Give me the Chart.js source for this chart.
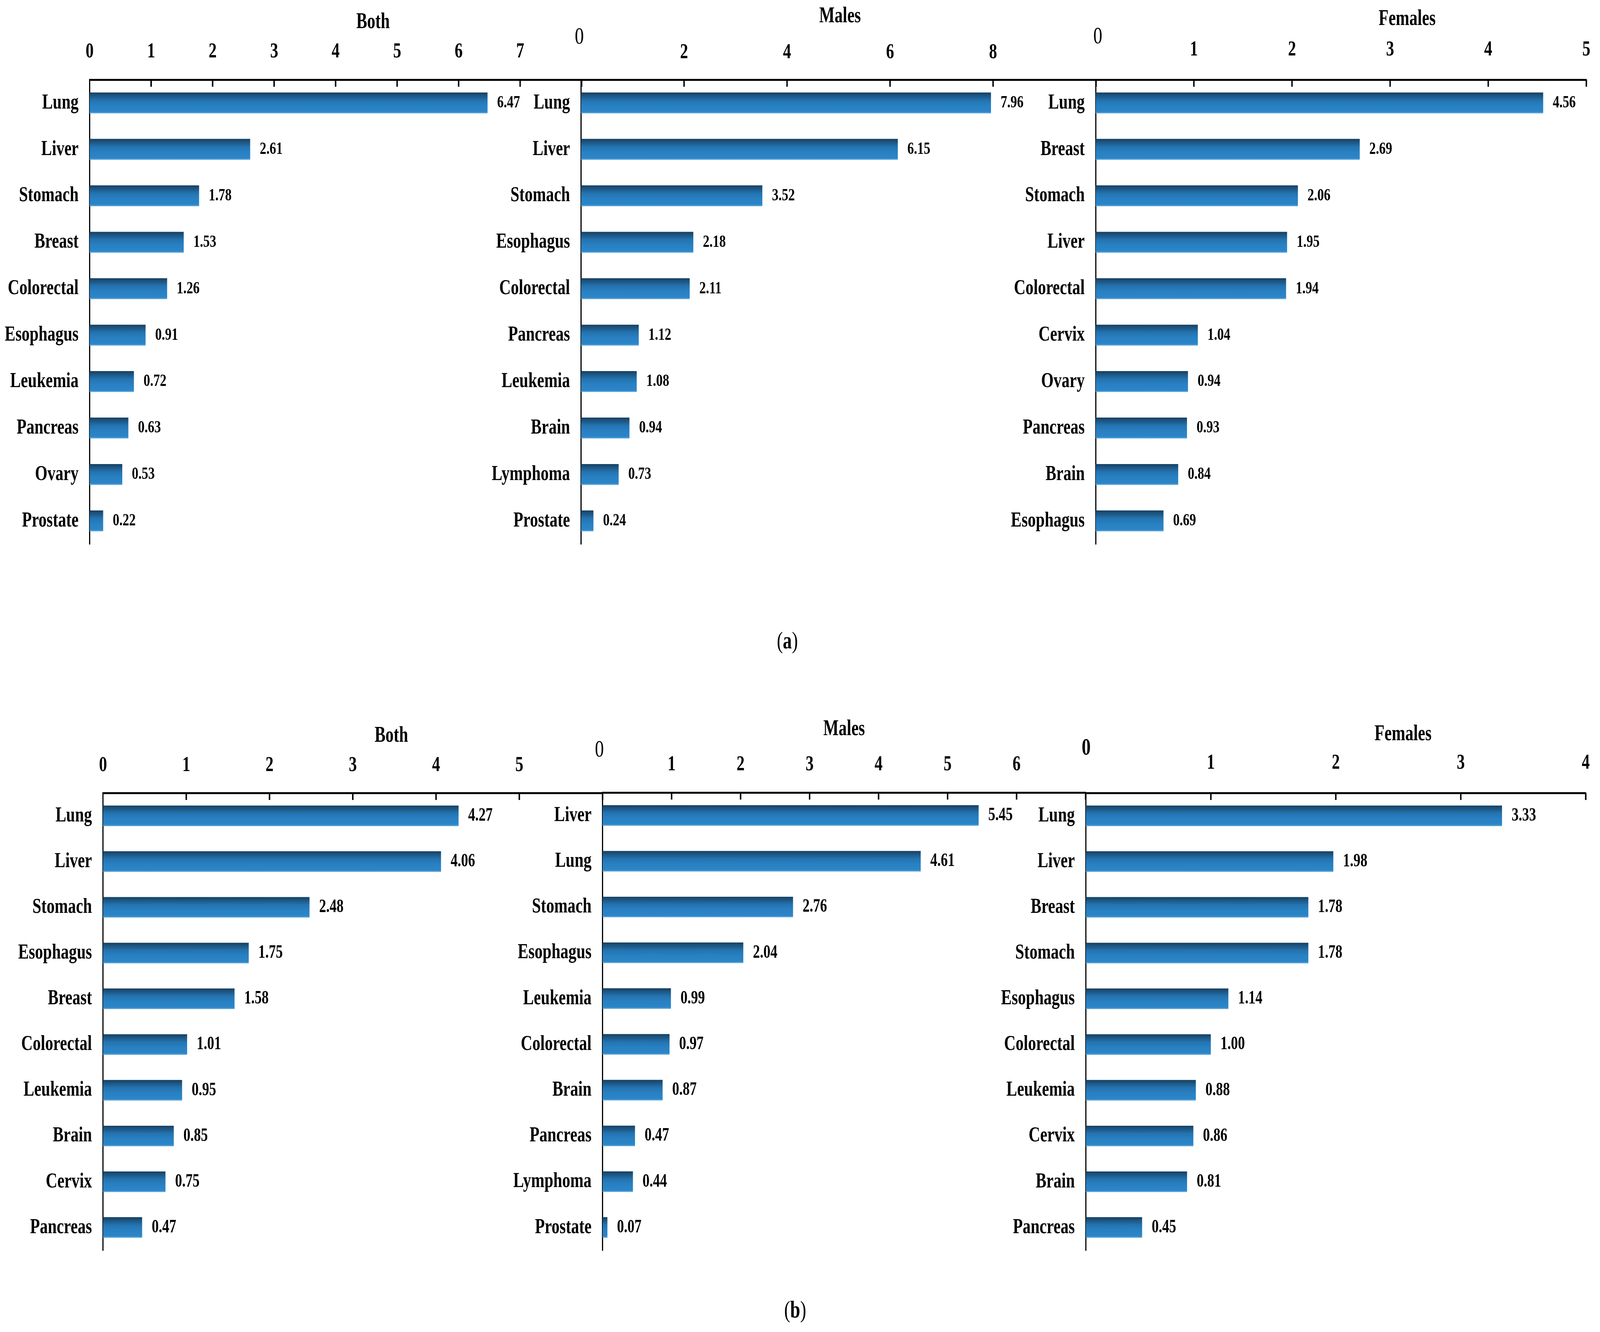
<!DOCTYPE html>
<html>
<head>
<meta charset="utf-8">
<script src="https://cdn.jsdelivr.net/npm/chart.js@4.4.1/dist/chart.umd.min.js"></script>
<style>
html,body{margin:0;padding:0;background:#fff;overflow:hidden;}
#page{position:absolute;left:0;top:0;width:5499px;height:3410px;overflow:hidden;background:#fff;transform-origin:0 0;}
#page canvas{position:absolute;}
.cap{position:absolute;font-family:"Liberation Serif","Times New Roman",serif;font-size:62px;color:#000;transform:translate(-50%,-50%);line-height:1;white-space:nowrap;}
</style>
</head>
<body>
<div id="page">
<span class="cap" style="left:2706px;top:1639px">(<b>a</b>)</span>
<span class="cap" style="left:2733px;top:3352px">(<b>b</b>)</span>
</div>
<script>
// ---------------- DATA ----------------
const aBothCats = ['Lung','Liver','Stomach','Breast','Colorectal','Esophagus','Leukemia','Pancreas','Ovary','Prostate'];
const aBothVals = [6.47,2.61,1.78,1.53,1.26,0.91,0.72,0.63,0.53,0.22];
const aBothTicks = ['0','1','2','3','4','5','6','7'];

const aMalesCats = ['Lung','Liver','Stomach','Esophagus','Colorectal','Pancreas','Leukemia','Brain','Lymphoma','Prostate'];
const aMalesVals = [7.96,6.15,3.52,2.18,2.11,1.12,1.08,0.94,0.73,0.24];
const aMalesTicks = ['0','2','4','6','8'];

const aFemalesCats = ['Lung','Breast','Stomach','Liver','Colorectal','Cervix','Ovary','Pancreas','Brain','Esophagus'];
const aFemalesVals = [4.56,2.69,2.06,1.95,1.94,1.04,0.94,0.93,0.84,0.69];
const aFemalesTicks = ['0','1','2','3','4','5'];

const bBothCats = ['Lung','Liver','Stomach','Esophagus','Breast','Colorectal','Leukemia','Brain','Cervix','Pancreas'];
const bBothVals = [4.27,4.06,2.48,1.75,1.58,1.01,0.95,0.85,0.75,0.47];
const bBothTicks = ['0','1','2','3','4','5'];

const bMalesCats = ['Liver','Lung','Stomach','Esophagus','Leukemia','Colorectal','Brain','Pancreas','Lymphoma','Prostate'];
const bMalesVals = [5.45,4.61,2.76,2.04,0.99,0.97,0.87,0.47,0.44,0.07];
const bMalesTicks = ['0','1','2','3','4','5','6'];

const bFemalesCats = ['Lung','Liver','Breast','Stomach','Esophagus','Colorectal','Leukemia','Cervix','Brain','Pancreas'];
const bFemalesVals = [3.33,1.98,1.78,1.78,1.14,1.00,0.88,0.86,0.81,0.45];
const bFemalesTicks = ['0','1','2','3','4'];

const panelTitles = ['Both','Males','Females','Both','Males','Females'];
const axisMax  = [8,10,5,6,7,4];
const axisStep = [1,2,1,1,1,1];

// ---------------- LAYOUT (pixels) ----------------
const PAGE_W = 5499, PAGE_H = 3410;
const layout = [
  {axisX:308,  axisY:204,  axisR:1999, axisB:1454, top:0,    left:0,    title:[1282,58],   tickPad:38, zero:null, valFont:45},
  {axisX:1997, axisY:204,  axisR:3767, axisB:1454, top:0,    left:1667, title:[2887,43],   tickPad:36, zero:{x:1991,y:96,w:'normal'}, valFont:45},
  {axisX:3766, axisY:204,  axisR:5452, axisB:1454, top:0,    left:3436, title:[4836,50],   tickPad:43, zero:{x:3773,y:95,w:'normal'}, valFont:45},
  {axisX:354,  axisY:2030, axisR:2071, axisB:3262, top:1790, left:0,    title:[1345,1885], tickPad:37, zero:null, valFont:48},
  {axisX:2071, axisY:2029, axisR:3731, axisB:3262, top:1790, left:1741, title:[2901,1868], tickPad:38, zero:{x:2060,y:1921,w:'normal'}, valFont:48},
  {axisX:3732, axisY:2030, axisR:5450, axisB:3262, top:1790, left:3402, title:[4822,1881], tickPad:43, zero:{x:3733,y:1916,w:'bold'}, valFont:48}
];

const cats  = [aBothCats,aMalesCats,aFemalesCats,bBothCats,bMalesCats,bFemalesCats];
const vals  = [aBothVals,aMalesVals,aFemalesVals,bBothVals,bMalesVals,bFemalesVals];
const ticks = [aBothTicks,aMalesTicks,aFemalesTicks,bBothTicks,bMalesTicks,bFemalesTicks];

const FONT = '"Liberation Serif","Times New Roman",serif';
const BAR_PCT = 0.45;
const RIGHT_PAD = 90, BOTTOM_PAD = 10;

Chart.defaults.font.family = FONT;
Chart.defaults.color = '#000';

// fit the fixed-size page into whatever viewport we get
(function fitPage() {
  const page = document.getElementById('page');
  const vw = window.innerWidth || PAGE_W;
  const vh = window.innerHeight || PAGE_H;
  const sx = vw / PAGE_W, sy = vh / PAGE_H;
  if (Math.abs(sx - 1) > 0.001 || Math.abs(sy - 1) > 0.001) {
    page.style.transform = 'scale(' + sx + ',' + sy + ')';
  }
})();

function barFill(ctx) {
  const chart = ctx.chart;
  const area = chart.chartArea;
  if (!area || ctx.type !== 'data' || !chart.scales.y) return '#2880c2';
  const yc = chart.scales.y.getPixelForValue(ctx.dataIndex);
  const band = (area.bottom - area.top) / chart.data.labels.length;
  const h = band * BAR_PCT / 2;
  const g = chart.ctx.createLinearGradient(0, yc - h, 0, yc + h);
  g.addColorStop(0.00, '#173f5f');
  g.addColorStop(0.10, '#1b4e78');
  g.addColorStop(0.38, '#2474b0');
  g.addColorStop(0.65, '#2981c3');
  g.addColorStop(0.92, '#2b85c7');
  g.addColorStop(1.00, '#69aee0');
  return g;
}

const decorPlugin = {
  id: 'decor',
  afterDraw(chart) {
    const L = chart.options.plugins.decor;
    const c = chart.ctx;
    const xs = chart.scales.x;
    const area = chart.chartArea;
    c.save();
    // inward tick marks
    c.strokeStyle = '#000';
    c.lineWidth = 5;
    xs.ticks.forEach(t => {
      if (t.value === 0) return;
      const px = xs.getPixelForValue(t.value);
      c.beginPath();
      c.moveTo(px, area.top);
      c.lineTo(px, area.top + 18);
      c.stroke();
    });
    // value labels
    const meta = chart.getDatasetMeta(0);
    const data = chart.data.datasets[0].data;
    c.fillStyle = '#000';
    c.font = 'bold ' + L.valFont + 'px ' + FONT;
    c.textAlign = 'left';
    c.textBaseline = 'middle';
    meta.data.forEach((bar, i) => {
      c.fillText(Number(data[i]).toFixed(2), bar.x + 33, bar.y);
    });
    // title
    c.font = 'bold 56px ' + FONT;
    c.textAlign = 'center';
    c.fillText(L.titleText, L.title[0] - L.left, L.title[1] - L.top);
    // separately placed zero label
    if (L.zero) {
      c.font = L.zero.w + ' 62px ' + FONT;
      c.fillText(L.zeroText, L.zero.x - L.left, L.zero.y - L.top);
    }
    c.restore();
  }
};

const page = document.getElementById('page');

layout.forEach((L, k) => {
  const labelW = L.axisX - L.left;
  const plotW = L.axisR - L.axisX;
  const W = labelW + plotW + RIGHT_PAD;
  const H = L.axisB + BOTTOM_PAD - L.top;
  const cv = document.createElement('canvas');
  cv.width = W; cv.height = H;
  cv.style.left = L.left + 'px';
  cv.style.top = L.top + 'px';
  cv.style.width = W + 'px';
  cv.style.height = H + 'px';
  page.appendChild(cv);

  const shown = ticks[k];
  const hideZero = !!L.zero;
  const opts = Object.assign({}, L, {titleText: panelTitles[k], zeroText: shown[0]});

  new Chart(cv.getContext('2d'), {
    type: 'bar',
    data: {
      labels: cats[k],
      datasets: [{
        data: vals[k],
        backgroundColor: barFill,
        borderWidth: 0,
        barPercentage: BAR_PCT,
        categoryPercentage: 1.0
      }]
    },
    options: {
      indexAxis: 'y',
      responsive: false,
      devicePixelRatio: 1,
      animation: false,
      events: [],
      layout: {padding: {left: 0, top: 0, right: RIGHT_PAD, bottom: BOTTOM_PAD}},
      plugins: {
        legend: {display: false},
        tooltip: {enabled: false},
        title: {display: false},
        decor: opts
      },
      scales: {
        x: {
          type: 'linear',
          position: 'top',
          min: 0,
          max: axisMax[k],
          grid: {display: false, drawTicks: false},
          border: {display: true, color: '#000', width: 5},
          ticks: {
            stepSize: axisStep[k],
            padding: L.tickPad,
            color: '#000',
            font: {family: FONT, size: 55, weight: 'bold'},
            maxRotation: 0,
            autoSkip: false,
            callback: (v) => {
              const s = String(v);
              if (hideZero && v === 0) return '';
              return shown.includes(s) ? s : '';
            }
          },
          afterFit: (s) => { s.height = L.axisY - L.top; }
        },
        y: {
          type: 'category',
          position: 'left',
          grid: {display: false, drawTicks: false},
          border: {display: true, color: '#000', width: 4},
          ticks: {
            padding: 38,
            color: '#000',
            autoSkip: false,
            font: {family: FONT, size: 55, weight: 'bold'}
          },
          afterFit: (s) => { s.width = labelW; }
        }
      }
    },
    plugins: [decorPlugin]
  });
});
</script>
</body>
</html>
